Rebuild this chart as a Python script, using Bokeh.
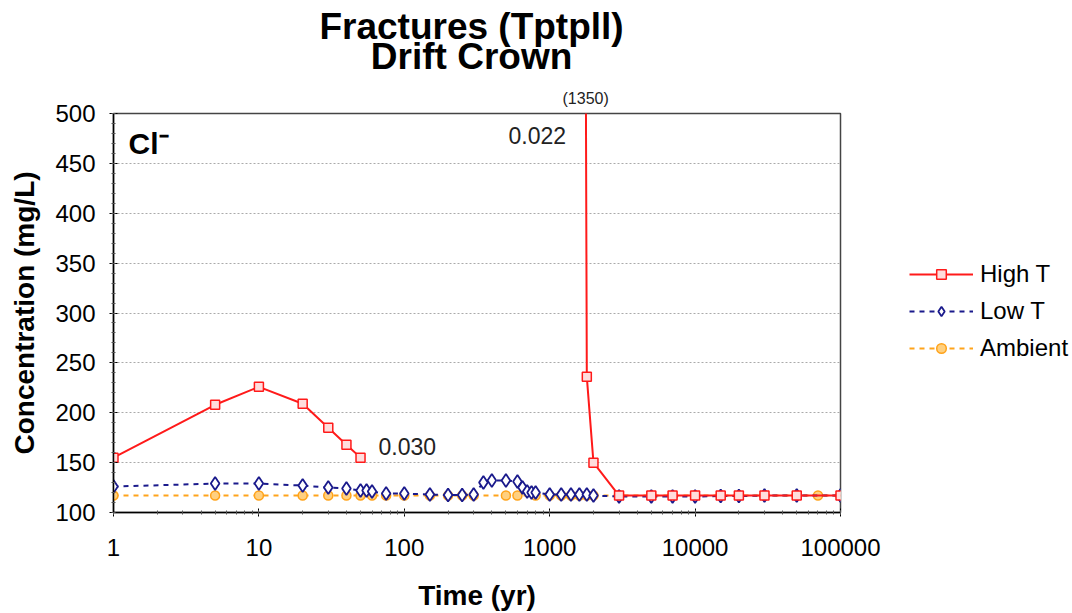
from bokeh.plotting import figure
from bokeh.layouts import row, column
from bokeh.models import (Range1d, Legend, LegendItem, Label, Title, SingleIntervalTicker,
                          LogTicker)
from bokeh.embed import file_html
from bokeh.resources import INLINE

# ---- data ----
high_t1_time = [1, 5, 10, 20, 30, 40, 50]
high_t1_conc = [155, 208, 226, 209, 185, 168, 155]
high_t2_time = [1700, 1800, 2000, 3000, 5000, 7000, 10000, 15000, 20000, 30000, 50000, 100000]
high_t2_conc = [1350, 236, 150, 117, 117, 117, 117, 117, 117, 117, 117, 117]

low_t_time = [1, 5, 10, 20, 30, 40, 50, 55, 60, 75, 100, 150, 200, 250, 300, 350, 400, 500,
              600, 650, 700, 750, 800, 1000, 1200, 1400, 1600, 1800, 2000, 3000, 5000, 7000,
              10000, 15000, 20000, 30000, 50000, 100000]
low_t_conc = [126, 129, 129, 127, 125, 124, 122, 122, 121, 119, 119, 118, 117.5, 117.5, 118,
              130, 132, 132, 131, 125, 121, 120, 120, 118, 118, 118, 118, 118, 117, 116, 116,
              116, 116, 116.5, 116.5, 117, 117, 117]

amb_time = [1, 5, 10, 20, 30, 40, 50, 60, 75, 100, 150, 200, 250, 300, 500, 600, 800, 1000,
            1200, 1400, 1600, 1800, 2000, 3000, 5000, 7000, 10000, 15000, 20000, 30000,
            50000, 70000, 100000]
amb_conc = [117] * len(amb_time)

x_ticks = [1, 10, 100, 1000, 10000, 100000]
x_tick_labels = ["1", "10", "100", "1000", "10000", "100000"]

series_names = ["High T", "Low T", "Ambient"]
title_lines = ["Fractures (Tptpll)", "Drift Crown"]

FONT = "Liberation Sans"
RED = "#ff1a1a"
NAVY = "#1a1a8c"
ORANGE = "#ffa31a"

TITLE_H = 80

# ---- title strip ----
pt = figure(width=1072, height=TITLE_H, output_backend="svg", toolbar_location=None,
            x_range=Range1d(0, 1), y_range=Range1d(TITLE_H, 0),
            min_border_left=113, min_border_right=232, min_border_top=0, min_border_bottom=0,
            x_axis_location=None, y_axis_location=None)
pt.outline_line_color = None
pt.grid.visible = False
pt.title.visible = False
for txt, ypix in zip(title_lines, [26, 56]):
    pt.add_layout(Label(x=0.4925, y=ypix, text=txt, text_font=FONT, text_font_style="bold",
                        text_font_size="37px", text_align="center", text_baseline="middle",
                        text_color="black"))

# ---- main chart ----
p = figure(width=890, height=613 - TITLE_H, x_axis_type="log", output_backend="svg",
           toolbar_location=None, x_range=Range1d(1, 100000), y_range=Range1d(100, 500),
           min_border_left=113, min_border_right=50, min_border_bottom=98,
           min_border_top=113 - TITLE_H)
p.title.visible = False
p.add_layout(Title(text="(1350)", align="left", offset=449, standoff=13, text_font=FONT,
                   text_font_size="16px", text_font_style="normal", text_color="#222222"),
             "above")

p.outline_line_color = "#444444"
p.outline_line_width = 1.5
p.xgrid.grid_line_color = None
p.ygrid.grid_line_color = "#aaaaaa"
p.ygrid.grid_line_dash = "2 2"

p.xaxis.ticker = LogTicker(mantissas=[1], num_minor_ticks=10)
p.xaxis.major_label_overrides = {t: l for t, l in zip(x_ticks, x_tick_labels)}
p.yaxis.ticker = SingleIntervalTicker(interval=50, num_minor_ticks=5)

for ax in (p.xaxis, p.yaxis):
    ax.axis_line_color = "black"
    ax.axis_line_width = 1.5
    ax.major_tick_line_color = "black"
    ax.minor_tick_line_color = "#555555"
    ax.major_tick_in = 4
    ax.major_tick_out = 4
    ax.minor_tick_in = 2
    ax.minor_tick_out = 2
    ax.major_label_text_font = FONT
    ax.major_label_text_font_size = "24px"
    ax.major_label_text_color = "black"
    ax.axis_label_text_font = FONT
    ax.axis_label_text_font_size = "28px"
    ax.axis_label_text_font_style = "bold"
    ax.axis_label_text_color = "black"

p.xaxis.axis_label = "Time (yr)"
p.yaxis.axis_label = "Concentration (mg/L)"
p.xaxis.major_label_standoff = 22
p.xaxis.axis_label_standoff = 21
p.yaxis.major_label_standoff = 14
p.yaxis.axis_label_standoff = 12

styles = {
    "High T": dict(line=dict(line_color=RED, line_width=2),
                   mark=dict(marker="square", size=9, line_color=RED, fill_color="#ffdddd",
                             line_width=1.5)),
    "Low T": dict(line=dict(line_color=NAVY, line_width=2, line_dash="5 5"),
                  mark=dict(marker="diamond", size=13, line_color=NAVY, fill_color="white",
                            line_width=1.8)),
    "Ambient": dict(line=dict(line_color=ORANGE, line_width=2, line_dash="5 5"),
                    mark=dict(marker="circle", size=9, line_color=ORANGE, fill_color="#ffd080",
                              line_width=1.5)),
}
series_data = {
    "High T": [(high_t1_time, high_t1_conc), (high_t2_time, high_t2_conc)],
    "Low T": [(low_t_time, low_t_conc)],
    "Ambient": [(amb_time, amb_conc)],
}

for name in ["Ambient", "Low T", "High T"]:
    for xs, ys in series_data[name]:
        p.line(xs, ys, **styles[name]["line"])
        p.scatter(xs, ys, **styles[name]["mark"])

p.add_layout(Label(x=66.5, y=165.7, text="0.030", text_font=FONT,
                   text_font_size="23px", text_baseline="middle", text_color="#222222"))
p.add_layout(Label(x=521, y=478, text="0.022", text_font=FONT,
                   text_font_size="23px", text_baseline="middle", text_color="#222222"))
p.add_layout(Label(x=1.27, y=470, text="Cl⁻", text_font=FONT, text_font_style="bold",
                   text_font_size="30px", text_baseline="middle", text_color="black"))

# ---- legend panel (axis-less figure; its glyphs fall outside its ranges) ----
pl = figure(width=182, height=613 - TITLE_H, output_backend="svg", toolbar_location=None,
            x_range=Range1d(0, 1), y_range=Range1d(0, 1), min_border=0,
            x_axis_location=None, y_axis_location=None)
pl.outline_line_color = None
pl.grid.visible = False
pl.title.visible = False
items = []
for name in series_names:
    xs, ys = series_data[name][0]
    rl = pl.line(xs, ys, **styles[name]["line"])
    rm = pl.scatter(xs, ys, **styles[name]["mark"])
    items.append(LegendItem(label=name, renderers=[rl, rm]))
legend = Legend(items=items, location=(14, 145))
legend.label_text_font = FONT
legend.label_text_font_size = "24px"
legend.label_text_color = "black"
legend.glyph_width = 64
legend.glyph_height = 24
legend.label_height = 24
legend.spacing = 9
legend.label_standoff = 7
legend.border_line_alpha = 0
legend.background_fill_alpha = 0
legend.margin = 0
legend.padding = 5
pl.add_layout(legend, "center")

layout = column(pt, row(p, pl))
open("out.html", "w").write(file_html(layout, INLINE))
